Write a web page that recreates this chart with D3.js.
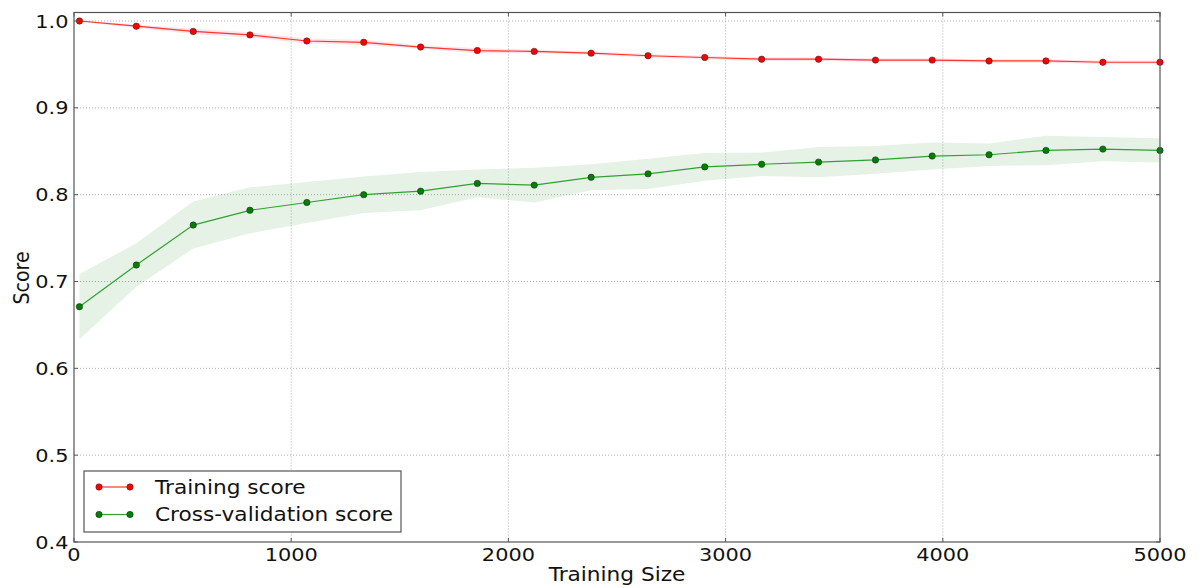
<!DOCTYPE html>
<html>
<head>
<meta charset="utf-8">
<script src="https://cdn.jsdelivr.net/npm/d3@7"></script>
<style>
	body { margin: 0; background: #fff; }
	svg { display: block; font-family: "DejaVu Sans", sans-serif; }
</style>
</head>
<body>
<div id="chart"></div>
<script>
// ===== データ =====
var trainSizes = [25, 287, 549, 810, 1072, 1334, 1596, 1857, 2119, 2381,
	2643, 2904, 3166, 3428, 3690, 3951, 4213, 4475, 4737, 5000];

var trainMean = [1.000, 0.994, 0.988, 0.984, 0.977, 0.9755, 0.970, 0.966, 0.965, 0.963,
	0.960, 0.958, 0.956, 0.956, 0.955, 0.955, 0.954, 0.954, 0.9525, 0.9525];
var trainStd = [0.0005, 0.002, 0.003, 0.003, 0.003, 0.003, 0.002, 0.003, 0.002, 0.002,
	0.002, 0.002, 0.002, 0.002, 0.002, 0.002, 0.002, 0.002, 0.002, 0.002];

var cvMean = [0.671, 0.719, 0.765, 0.782, 0.791, 0.800, 0.804, 0.813, 0.811, 0.820,
	0.824, 0.832, 0.835, 0.8375, 0.840, 0.8445, 0.846, 0.851, 0.8525, 0.851];
var cvStd = [0.0375, 0.025, 0.027, 0.0265, 0.0235, 0.021, 0.022, 0.016, 0.020, 0.015,
	0.0175, 0.016, 0.0135, 0.0175, 0.016, 0.0155, 0.013, 0.017, 0.014, 0.014];

var xTicks = [0, 1000, 2000, 3000, 4000, 5000];
var yTicks = [0.4, 0.5, 0.6, 0.7, 0.8, 0.9, 1.0];

var seriesNames = ['Training score', 'Cross-validation score'];

// ===== レイアウト =====
var width = 1203, height = 588;
var margin = { left: 74, top: 12.5, right: 43, bottom: 46 };
var iw = width - margin.left - margin.right;
var ih = height - margin.top - margin.bottom;
var stretch = 1.14; // 元画像は横に少し伸びている

var svg = d3.select('#chart').append('svg')
	.attr('width', width)
	.attr('height', height);

var x = d3.scaleLinear().domain([0, 5000]).range([0, iw]);
var y = d3.scaleLinear().domain([0.4, 1.0098]).range([ih, 0]);

// 横伸ばしのテキスト
function addText(parent, tx, ty, str, size, anchor, rotate) {
	var t = parent.append('g')
		.attr('transform', 'translate(' + tx + ',' + ty + ') scale(' + stretch + ',1)' + (rotate ? ' rotate(' + rotate + ')' : ''))
		.append('text')
		.attr('text-anchor', anchor)
		.attr('font-size', size + 'px')
		.attr('fill', '#111')
		.text(str);
	return t;
}

var g = svg.append('g')
	.attr('transform', 'translate(' + margin.left + ',' + margin.top + ')');

// グリッド
g.append('g').selectAll('line').data(xTicks.slice(1, -1)).enter().append('line')
	.attr('x1', d => x(d)).attr('x2', d => x(d))
	.attr('y1', 0).attr('y2', ih)
	.attr('stroke', '#b0b0b0').attr('stroke-width', 1)
	.attr('stroke-dasharray', '1,2');
g.append('g').selectAll('line').data(yTicks.slice(1)).enter().append('line')
	.attr('x1', 0).attr('x2', iw)
	.attr('y1', d => y(d)).attr('y2', d => y(d))
	.attr('stroke', '#b0b0b0').attr('stroke-width', 1)
	.attr('stroke-dasharray', '1,2');

// ===== 系列 =====
var series = [
	{ name: seriesNames[0], mean: trainMean, std: trainStd, color: '#ff0000', fill: '#ff0000', line: '#ff3333' },
	{ name: seriesNames[1], mean: cvMean, std: cvStd, color: '#008000', fill: '#008000', line: '#33a033' }
];

var area = d3.area()
	.x((d, i) => x(trainSizes[i]))
	.y0(d => y(d.lo))
	.y1(d => y(d.hi));
var line = d3.line()
	.x((d, i) => x(trainSizes[i]))
	.y(d => y(d));

series.forEach(function(s) {
	var band = s.mean.map((m, i) => ({ lo: m - s.std[i], hi: m + s.std[i] }));
	g.append('path')
		.datum(band)
		.attr('d', area)
		.attr('fill', s.fill)
		.attr('fill-opacity', 0.1)
		.attr('stroke', 'none');
});

series.forEach(function(s) {
	g.append('path')
		.datum(s.mean)
		.attr('d', line)
		.attr('fill', 'none')
		.attr('stroke', s.line)
		.attr('stroke-width', 1.2);
	g.append('g').selectAll('circle').data(s.mean).enter().append('circle')
		.attr('cx', (d, i) => x(trainSizes[i]))
		.attr('cy', d => y(d))
		.attr('r', 3.2)
		.attr('fill', s.color)
		.attr('stroke', '#222')
		.attr('stroke-width', 0.5);
});

// ===== 枠と目盛 =====
g.append('rect')
	.attr('x', 0).attr('y', 0)
	.attr('width', iw).attr('height', ih)
	.attr('fill', 'none')
	.attr('stroke', '#555')
	.attr('stroke-width', 1.2);

var tickLen = 4;
xTicks.forEach(function(t) {
	g.append('line').attr('x1', x(t)).attr('x2', x(t)).attr('y1', ih).attr('y2', ih - tickLen).attr('stroke', '#555');
	g.append('line').attr('x1', x(t)).attr('x2', x(t)).attr('y1', 0).attr('y2', tickLen).attr('stroke', '#555');
	addText(g, x(t), ih + 18.5, String(t), 18.3, 'middle');
});
yTicks.forEach(function(t) {
	g.append('line').attr('x1', 0).attr('x2', tickLen).attr('y1', y(t)).attr('y2', y(t)).attr('stroke', '#555');
	g.append('line').attr('x1', iw).attr('x2', iw - tickLen).attr('y1', y(t)).attr('y2', y(t)).attr('stroke', '#555');
	addText(g, -5.5, y(t), t.toFixed(1), 18.3, 'end').attr('dy', '0.36em');
});

// 軸ラベル
addText(svg, margin.left + iw / 2, 580.5, 'Training Size', 19, 'middle');
addText(svg, 29, 278, 'Score', 19, 'middle', -90);

// ===== 凡例 =====
var legend = svg.append('g').attr('transform', 'translate(84,471)');
legend.append('rect')
	.attr('width', 317).attr('height', 61)
	.attr('fill', '#fff')
	.attr('stroke', '#555')
	.attr('stroke-width', 1.2);
series.forEach(function(s, i) {
	var ly = 16 + i * 27.5;
	legend.append('line')
		.attr('x1', 15).attr('x2', 46).attr('y1', ly).attr('y2', ly)
		.attr('stroke', s.line).attr('stroke-width', 1.2);
	[15, 46].forEach(function(px) {
		legend.append('circle')
			.attr('cx', px).attr('cy', ly).attr('r', 3.2)
			.attr('fill', s.color).attr('stroke', '#222').attr('stroke-width', 0.5);
	});
	addText(legend, 71, ly, s.name, 19, 'start').attr('dy', '0.36em');
});
</script>
</body>
</html>
